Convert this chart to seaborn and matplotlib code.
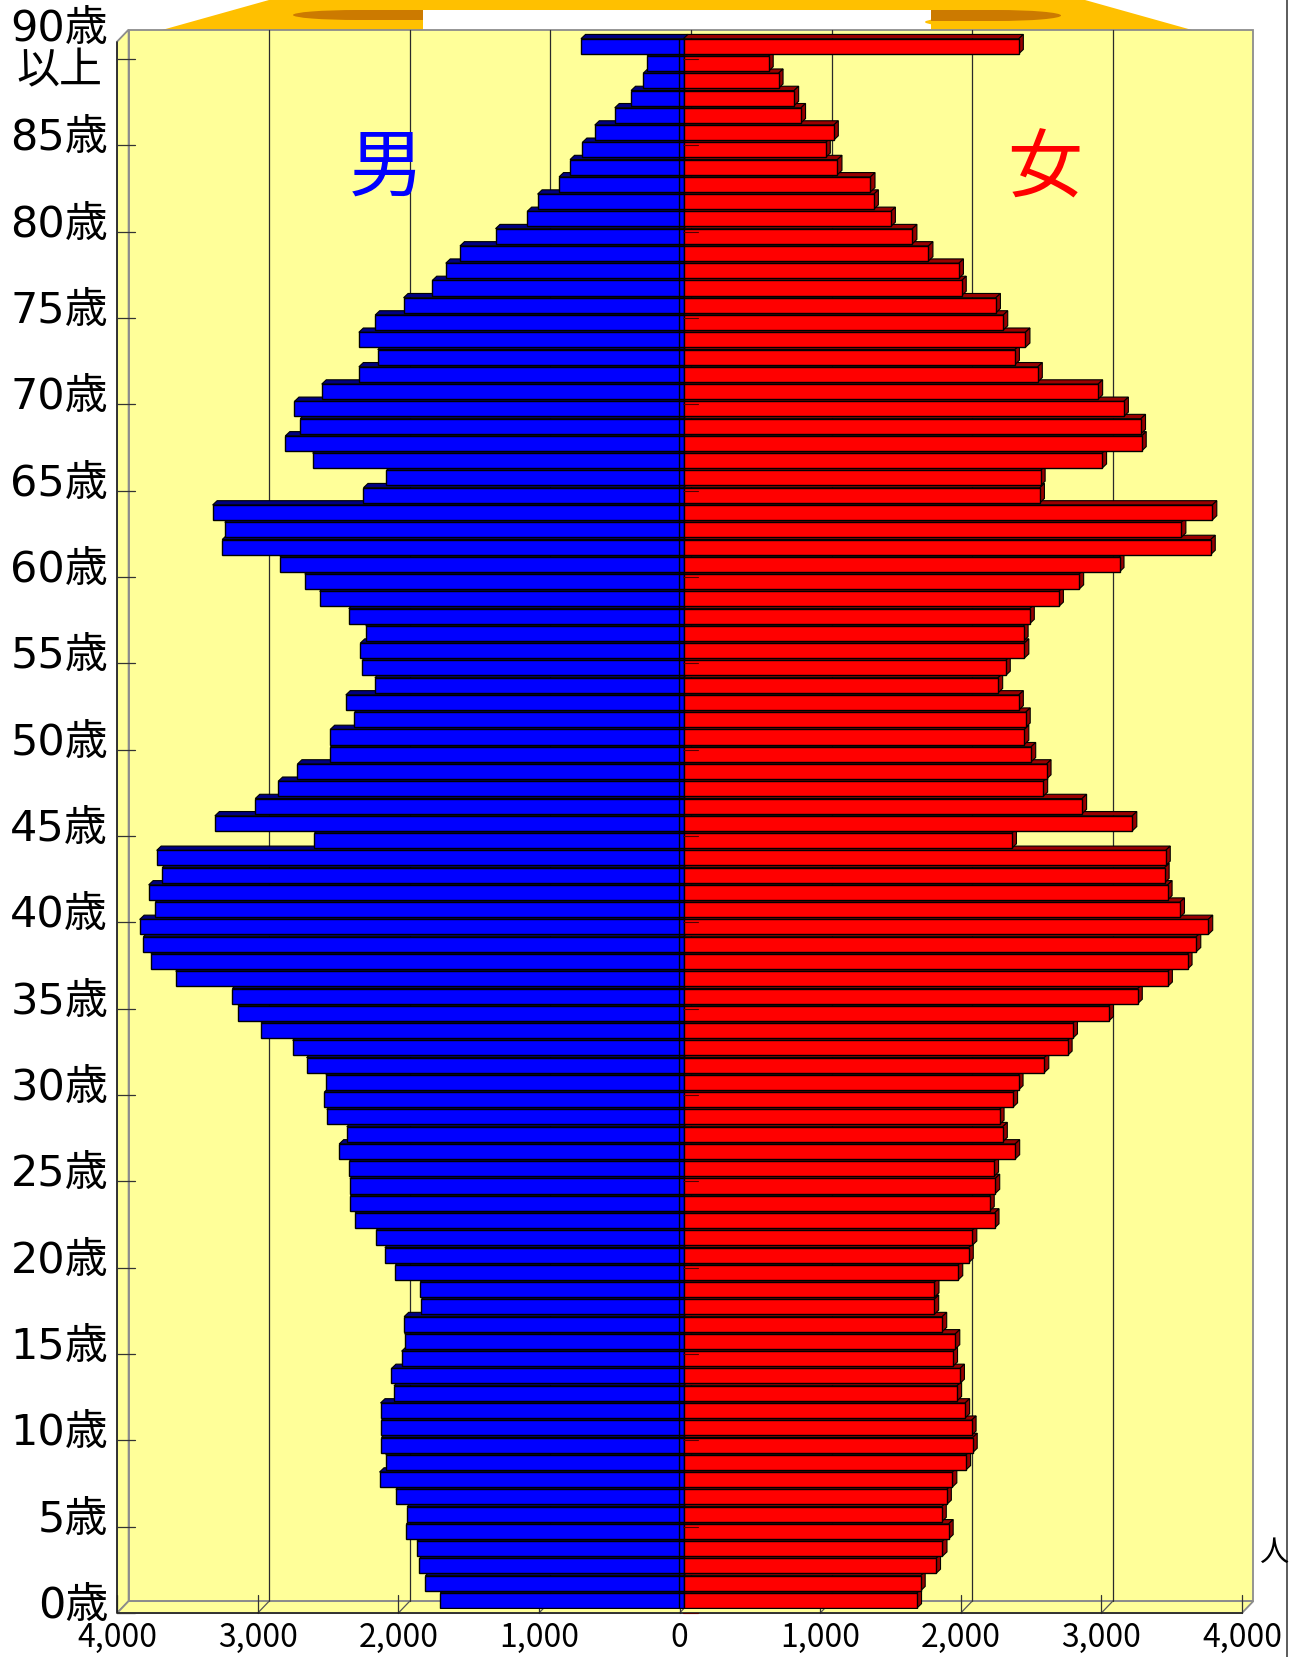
import numpy as np
import pandas as pd
import matplotlib
matplotlib.use('Agg')
import matplotlib.pyplot as plt
import seaborn as sns
from matplotlib.patches import Polygon, Rectangle, Ellipse
from matplotlib.transforms import ScaledTranslation, IdentityTransform
from matplotlib.lines import Line2D

# ---------------- data ----------------
ages = list(range(91))            # 90 = "90歳以上"
male = [1730, 1836, 1878, 1896, 1971, 1966, 2046, 2162, 2118, 2149,
        2149, 2155, 2059, 2077, 2005, 1984, 1987, 1865, 1873, 2049,
        2124, 2186, 2336, 2369, 2372, 2377, 2449, 2395, 2537, 2555,
        2544, 2681, 2780, 3005, 3168, 3209, 3612, 3788, 3842, 3868,
        3757, 3804, 3708, 3747, 2625, 3333, 3046, 2883, 2746, 2511,
        2513, 2340, 2402, 2195, 2286, 2299, 2260, 2381, 2588, 2694,
        2870, 3281, 3263, 3349, 2276, 2113, 2638, 2832, 2726, 2767,
        2573, 2309, 2175, 2309, 2193, 1991, 1787, 1691, 1590, 1337,
        1112, 1038, 885, 807, 719, 631, 489, 373, 287, 259, 729]
female = [1661, 1687, 1796, 1842, 1886, 1837, 1873, 1912, 2010, 2057,
          2049, 2003, 1946, 1966, 1917, 1933, 1840, 1783, 1785, 1954,
          2029, 2054, 2212, 2178, 2217, 2209, 2359, 2271, 2248, 2344,
          2383, 2566, 2732, 2770, 3026, 3231, 3445, 3585, 3647, 3732,
          3531, 3443, 3422, 3430, 2336, 3192, 2835, 2558, 2582, 2473,
          2424, 2434, 2385, 2238, 2292, 2424, 2419, 2463, 2670, 2814,
          3101, 3750, 3541, 3761, 2535, 2540, 2977, 3259, 3254, 3132,
          2949, 2520, 2357, 2432, 2274, 2222, 1979, 1959, 1742, 1628,
          1475, 1354, 1330, 1095, 1012, 1069, 836, 787, 676, 606, 2385]
x_ticks = [-4000, -3000, -2000, -1000, 0, 1000, 2000, 3000, 4000]
x_tick_labels = ['4,000', '3,000', '2,000', '1,000', '0', '1,000', '2,000', '3,000', '4,000']
y_tick_ages = list(range(0, 91, 5))
y_tick_labels = [f'{a}歳' for a in range(0, 90, 5)] + ['90歳\n以上']
label_male, label_female, unit_label = '男', '女', '人'

# ---------------- figure ----------------
W, H, DPI = 1299, 1657, 100
sns.set_theme(style='white')
plt.rcParams['font.family'] = ['Noto Sans CJK JP', 'DejaVu Sans']
fig = plt.figure(figsize=(W / DPI, H / DPI), dpi=DPI, facecolor='white')

bg = fig.add_axes([0, 0, 1, 1], zorder=0)
bg.set_xlim(0, W)
bg.set_ylim(H, 0)
bg.axis('off')

L, R, B, T = 121.1, 1245.9, 1609.1, 37.6
ax = fig.add_axes([L / W, 1 - B / H, (R - L) / W, (B - T) / H], zorder=1)
ax.patch.set_visible(False)

df = pd.DataFrame({'age': ages,
                   'male': [-m for m in male],
                   'female': female})
sns.barplot(data=df, x='male', y='age', orient='h', native_scale=True,
            color='#0000FF', saturation=1, edgecolor='black', linewidth=1.0,
            width=0.87, errorbar=None, ax=ax)
sns.barplot(data=df, x='female', y='age', orient='h', native_scale=True,
            color='#FF0000', saturation=1, edgecolor='black', linewidth=1.0,
            width=0.87, errorbar=None, ax=ax)
bars = list(ax.patches)
ax.set_xlim(-4000, 4000)
ax.set_ylim(-0.5, 90.5)
ax.set_axis_off()

# plane transforms (oblique 3D look)
tb = ax.transData + ScaledTranslation(7.5 / DPI, 8 / DPI, fig.dpi_scale_trans)   # back wall
tf = ax.transData + ScaledTranslation(-4 / DPI, -4 / DPI, fig.dpi_scale_trans)   # front plane
ID = IdentityTransform()
Y0, Y1 = -0.5, 90.5
XL, XR = x_ticks[0], x_ticks[-1]

def P(t, x, y):
    return tuple(t.transform((x, y)))

wall = '#FFFF99'
edge_gray = '#8C8C8C'
# back wall
ax.add_artist(Polygon([P(tb, XL, Y0), P(tb, XR, Y0), P(tb, XR, Y1), P(tb, XL, Y1)],
                      closed=True, transform=ID, fc=wall, ec=edge_gray, lw=1.3,
                      zorder=0.5, clip_on=False))
# left side wall
ax.add_artist(Polygon([P(tf, XL, Y0), P(tb, XL, Y0), P(tb, XL, Y1), P(tf, XL, Y1)],
                      closed=True, transform=ID, fc=wall, ec=edge_gray, lw=1.3,
                      zorder=0.55, clip_on=False))
# floor
ax.add_artist(Polygon([P(tf, XL, Y0), P(tf, XR, Y0), P(tb, XR, Y0), P(tb, XL, Y0)],
                      closed=True, transform=ID, fc=wall, ec=edge_gray, lw=1.3,
                      zorder=0.55, clip_on=False))
# gridlines on back wall + floor
for v in x_ticks:
    if XL < v < XR:
        a, b = P(tb, v, Y0), P(tb, v, Y1)
        ax.add_artist(Line2D([a[0], b[0]], [a[1], b[1]], transform=ID, color='#2a2a2a',
                             lw=0.9, zorder=0.6, clip_on=False))
        c = P(tf, v, Y0)
        ax.add_artist(Line2D([a[0], c[0]], [a[1], c[1]], transform=ID, color='#555555',
                             lw=0.9, zorder=0.6, clip_on=False))
    c = P(tf, v, Y0)
    ax.add_artist(Line2D([c[0], c[0]], [c[1], c[1] + 18], transform=ID, color='#333333',
                         lw=0.9, zorder=0.7, clip_on=False))
# front edges
a, b, c = P(tf, XL, Y1), P(tf, XL, Y0), P(tf, XR, Y0)
ax.add_artist(Line2D([a[0], b[0], c[0]], [a[1], b[1], c[1]], transform=ID, color='#222222',
                     lw=1.2, zorder=0.8, clip_on=False))

# ---------------- 3D bar faces ----------------
dx, dy = 4.5, 4.3
for p in bars:
    x0, y0, w, h = p.get_x(), p.get_y(), p.get_width(), p.get_height()
    xa, xb = min(x0, x0 + w), max(x0, x0 + w)
    (X0, Yb), (X1, Yt) = ax.transData.transform([(xa, y0), (xb, y0 + h)])
    age = int(round(y0 + h / 2))
    is_f = (x0 + w / 2) > 0
    base = 2 + age * 0.04 + (0.02 if is_f else 0.0)
    p.set_zorder(base + 0.01)
    topc = '#990000' if is_f else '#000080'
    ax.add_artist(Polygon([(X0, Yt), (X1, Yt), (X1 + dx, Yt + dy), (X0 + dx, Yt + dy)],
                          closed=True, transform=ID, fc=topc, ec='black', lw=0.8,
                          zorder=base, clip_on=False))
    if is_f:
        ax.add_artist(Polygon([(X1, Yb), (X1, Yt), (X1 + dx, Yt + dy), (X1 + dx, Yb + dy)],
                              closed=True, transform=ID, fc=topc, ec='black', lw=0.8,
                              zorder=base, clip_on=False))

# centre line
tc = ax.transData + ScaledTranslation(-4.5 / DPI, 0, fig.dpi_scale_trans)
a, b = P(tc, 0, -0.435), P(tc, 0, 90.435)
ax.add_artist(Line2D([a[0], b[0]], [a[1], b[1]], transform=ID, color='black', lw=1.0,
                     zorder=20, clip_on=False))

# y ticks (left wall and centre axis) and labels
for a_, lab in zip(y_tick_ages, y_tick_labels):
    s = P(tf, XL, a_ - 0.5)
    ax.add_artist(Line2D([s[0], s[0] + 18], [s[1], s[1]], transform=ID, color='#333333',
                         lw=0.9, zorder=0.9, clip_on=False))
    c = P(tf, 0, a_ - 0.5)
    ax.add_artist(Line2D([c[0] + 3.5, c[0] + 18], [c[1], c[1]], transform=ID, color='#500000',
                         lw=0.8, zorder=20, clip_on=False))
    if '\n' in lab:
        fig.text((s[0] - 9) / W, (s[1] + 9) / H, lab, ha='right', va='center',
                 multialignment='center', fontsize=31, linespacing=1.02,
                 family=['DejaVu Sans', 'Noto Sans CJK JP'], color='black')
    else:
        fig.text((s[0] - 9) / W, (s[1] + 7) / H, lab, ha='right', va='center',
                 fontsize=31, family=['DejaVu Sans', 'Noto Sans CJK JP'], color='black')

# x tick labels
for v, lab in zip(x_ticks, x_tick_labels):
    c = P(tf, v, Y0)
    fig.text(c[0] / W, (c[1] - 25) / H, lab, ha='center', va='center', fontsize=23,
             color='black')

# sex labels and unit
fig.text(386 / W, 1 - 169 / H, label_male, ha='center', va='center', fontsize=54,
         color='#0000FF')
fig.text(1045 / W, 1 - 170 / H, label_female, ha='center', va='center', fontsize=54,
         color='#FF0000')
fig.text(1274 / W, 1 - 1553 / H, unit_label, ha='center', va='center', fontsize=21,
         color='black')

# ---------------- top scroll decoration & frame line ----------------
gold, brown = '#FFC000', '#CC7A00'
bg.add_patch(Polygon([(162, 30), (269, 0), (1085, 0), (1192, 30)], closed=True,
                     fc=gold, ec='none', zorder=1))
bg.add_patch(Rectangle((423, 10), 508, 20, fc='white', ec='none', zorder=2))
bg.add_patch(Ellipse((400, 23), 46, 8, fc=gold, ec='none', zorder=2.5))
bg.add_patch(Ellipse((358, 15), 130, 10, fc=brown, ec='none', zorder=3))
bg.add_patch(Rectangle((358, 10), 65, 10, fc=brown, ec='none', zorder=3))
bg.add_patch(Ellipse((960, 22), 70, 8, fc=gold, ec='none', zorder=2.5))
bg.add_patch(Ellipse((996, 15.5), 130, 11, fc=brown, ec='none', zorder=3))
bg.add_patch(Rectangle((931, 10), 65, 11, fc=brown, ec='none', zorder=3))
bg.plot([1287, 1287], [0, H], color='#404040', lw=1.2, zorder=3)

fig.savefig('out.png', dpi=DPI, facecolor='white')
